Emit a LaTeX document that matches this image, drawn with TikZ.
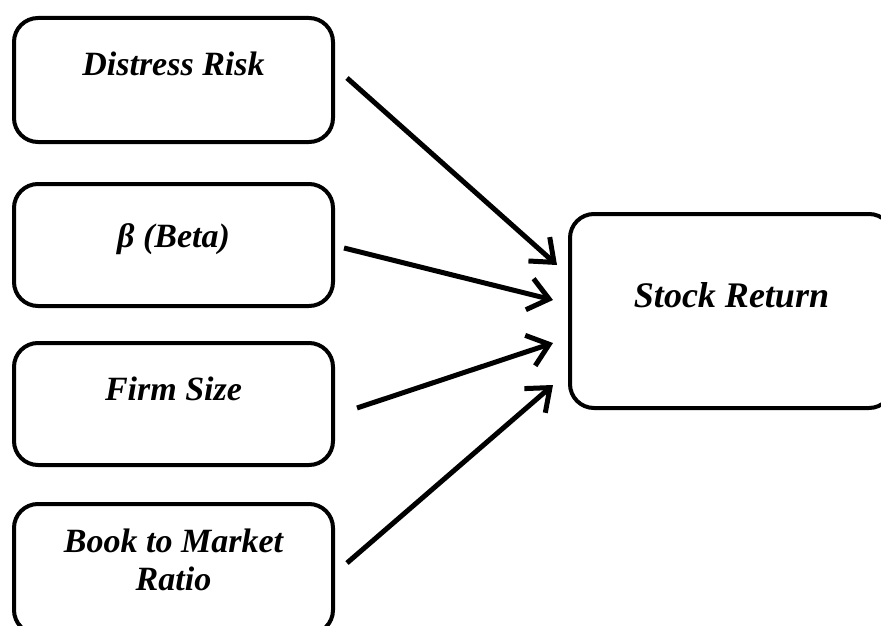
\documentclass[tikz,border=0pt]{standalone}
\usepackage{fontspec}
\setmainfont{Liberation Serif}
\usetikzlibrary{arrows.meta}
\begin{document}
\begin{tikzpicture}[
    x=1pt, y=-1pt,
    box/.style={draw, line width=4pt, rounded corners=24pt, minimum width=319pt, inner sep=0pt,
                align=center, font=\fontsize{34}{38}\selectfont\bfseries\itshape},
    arrow/.style={-{Straight Barb[length=20pt, width=32pt]}, line width=5pt}
]
    \useasboundingbox (0,0) rectangle (881,626);
    \node[box, text height=57pt, text depth=67pt] (risk) at (173.5, 80) {Distress Risk};
    \node[box, text height=63pt, text depth=59pt] (beta) at (173.5, 245) {β (Beta)};
    \node[box, text height=57pt, text depth=65pt] (size) at (173.5, 404) {Firm Size};
    \node[box, text height=86pt, text depth=44pt] (ratio) at (173.5, 569) {Book to Market\\Ratio};
    \node[box, minimum width=323pt, text height=93pt, text depth=101pt,
          font=\fontsize{36}{42}\selectfont\bfseries\itshape] (ret) at (731.5, 311) {Stock Return};

    \draw[arrow] ([xshift=12pt, yshift=2pt]risk.east) -- ([xshift=-11pt, yshift=46pt]ret.west);
    \draw[arrow] ([xshift=9pt, yshift=-3pt]beta.east) -- ([xshift=-15pt, yshift=11pt]ret.west);
    \draw[arrow] ([xshift=22pt, yshift=-4pt]size.east) -- ([xshift=-15pt, yshift=-32pt]ret.west);
    \draw[arrow] ([xshift=12pt, yshift=6pt]ratio.east) -- ([xshift=-15pt, yshift=-74pt]ret.west);
\end{tikzpicture}
\end{document}
